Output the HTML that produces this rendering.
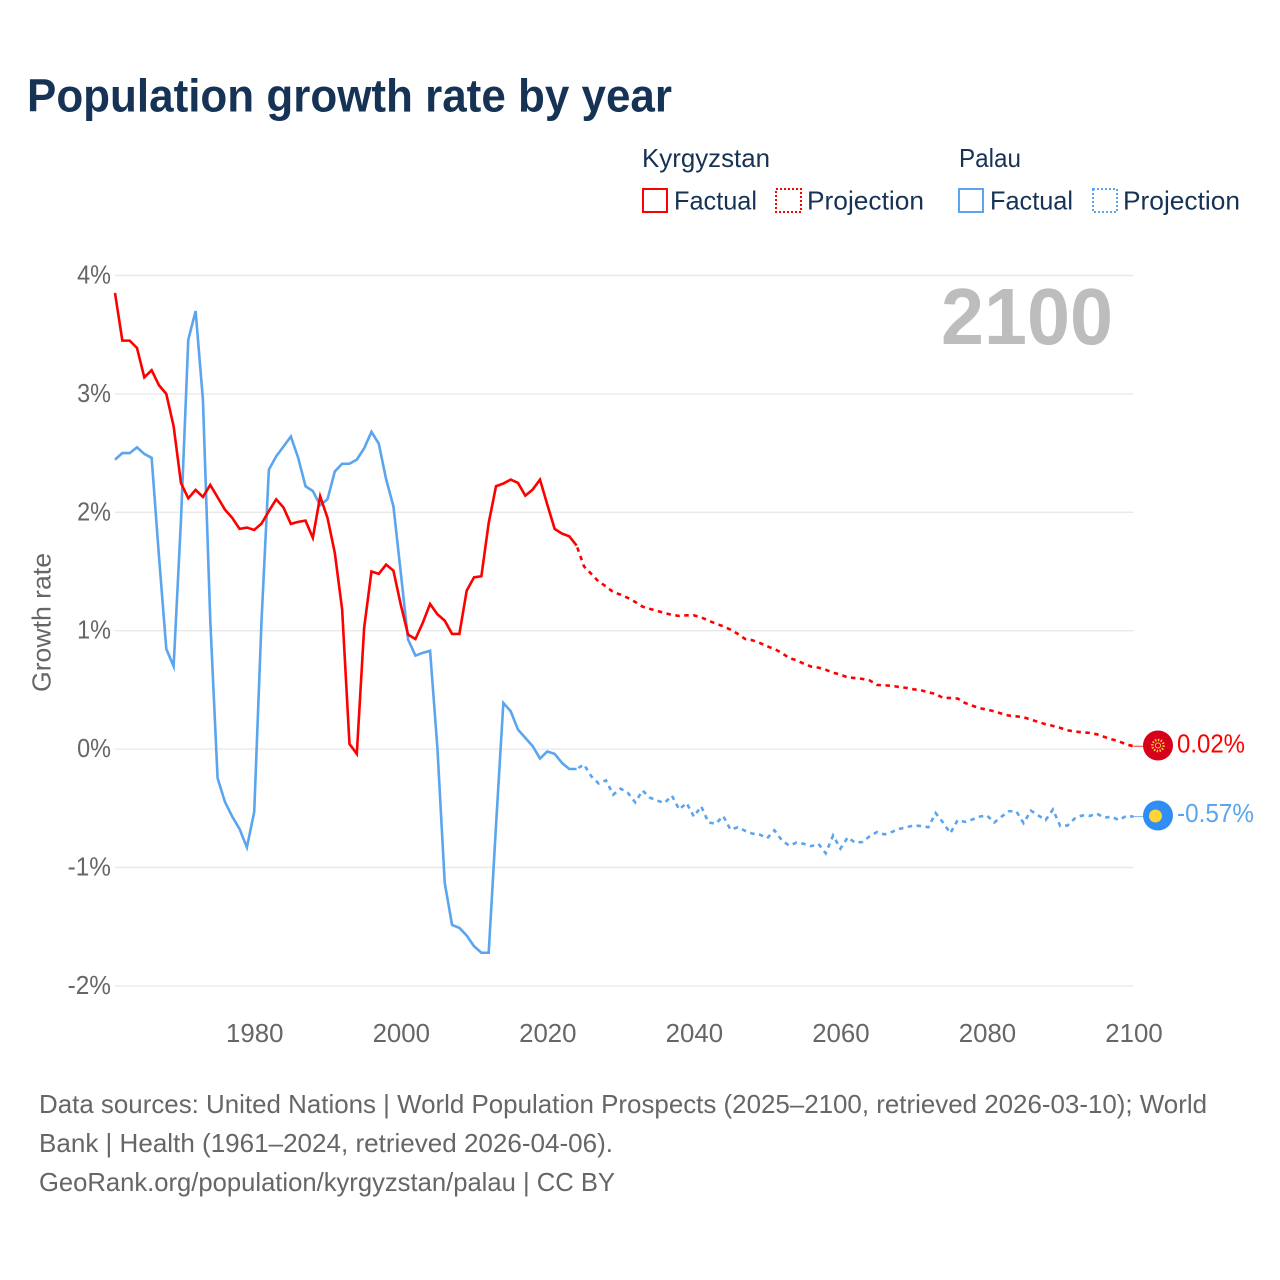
<!DOCTYPE html>
<html lang="en">
<head>
<meta charset="utf-8">
<title>Population growth rate by year</title>
<style>
html,body{margin:0;padding:0;background:#fff;}
svg{display:block;font-family:"Liberation Sans",sans-serif;}
</style>
</head>
<body>
<svg id="chart" width="1280" height="1280" viewBox="0 0 1280 1280" xmlns="http://www.w3.org/2000/svg">
  <rect width="1280" height="1280" fill="#fff"/>
  <text x="27" y="111.5" font-size="46" font-weight="700" fill="#163355" textLength="645" lengthAdjust="spacingAndGlyphs">Population growth rate by year</text>

  <g id="legend" font-size="26" fill="#163355">
    <text x="642" y="167" textLength="128" lengthAdjust="spacingAndGlyphs">Kyrgyzstan</text>
    <text x="959" y="167" textLength="62" lengthAdjust="spacingAndGlyphs">Palau</text>
    <rect x="643" y="189" width="24" height="23" fill="none" stroke="#ff0000" stroke-width="2"/>
    <text x="674" y="209.5" textLength="83" lengthAdjust="spacingAndGlyphs">Factual</text>
    <rect x="776" y="189" width="25" height="23" fill="none" stroke="#ff0000" stroke-width="2" stroke-dasharray="2 2"/>
    <text x="807" y="209.5" textLength="117" lengthAdjust="spacingAndGlyphs">Projection</text>
    <rect x="959" y="189" width="24" height="23" fill="none" stroke="#5aa5ee" stroke-width="2"/>
    <text x="990" y="209.5" textLength="83" lengthAdjust="spacingAndGlyphs">Factual</text>
    <rect x="1093" y="189" width="24" height="23" fill="none" stroke="#5aa5ee" stroke-width="2" stroke-dasharray="2 2"/>
    <text x="1123" y="209.5" textLength="117" lengthAdjust="spacingAndGlyphs">Projection</text>
  </g>

  <g id="grid"></g>
  <g id="yticks"></g>
  <g id="xticks"></g>

  <text transform="translate(50.5,692) rotate(-90)" font-size="26" fill="#666" textLength="139" lengthAdjust="spacingAndGlyphs">Growth rate</text>
  <text x="941" y="344" font-size="80" font-weight="700" fill="#bdbdbd" textLength="172" lengthAdjust="spacingAndGlyphs">2100</text>

  <g id="series"></g>

  <g>
    <circle cx="1158" cy="745.5" r="15" fill="#d6001c"/>
    <circle cx="1158" cy="745.5" r="5.6" fill="none" stroke="#fdd535" stroke-width="2.4" stroke-dasharray="1.4 1.5"/>
    <circle cx="1158" cy="745.5" r="2.6" fill="none" stroke="#fdd535" stroke-width="0.9"/>
  </g>
  <g>
    <circle cx="1158" cy="815.5" r="15" fill="#2f8df3"/>
    <circle cx="1155.5" cy="816" r="6.5" fill="#fdd535"/>
  </g>
  <text x="1177" y="752.5" font-size="26" fill="#ff0000" textLength="68" lengthAdjust="spacingAndGlyphs">0.02%</text>
  <text x="1177" y="822" font-size="26" fill="#5aa5ee" textLength="77" lengthAdjust="spacingAndGlyphs">-0.57%</text>

  <g font-size="26" fill="#666">
    <text x="39" y="1113" textLength="1168" lengthAdjust="spacingAndGlyphs">Data sources: United Nations | World Population Prospects (2025–2100, retrieved 2026-03-10); World</text>
    <text x="39" y="1152" textLength="574" lengthAdjust="spacingAndGlyphs">Bank | Health (1961–2024, retrieved 2026-04-06).</text>
    <text x="39" y="1191" textLength="576" lengthAdjust="spacingAndGlyphs">GeoRank.org/population/kyrgyzstan/palau | CC BY</text>
  </g>
</svg>
<script>
const firstYear = 1961;
const lastYear = 2100;
const yTickValues = [4, 3, 2, 1, 0, -1, -2];
const xTickYears = [1980, 2000, 2020, 2040, 2060, 2080, 2100];

// 1961–2024
const kyrgyzstanFactual = [3.853,3.45,3.45,3.388,3.14,3.2,3.073,3.0,2.727,2.248,2.118,2.189,2.13,2.231,2.127,2.023,1.953,1.86,1.871,1.851,1.905,2.01,2.11,2.04,1.902,1.919,1.93,1.784,2.135,1.953,1.657,1.178,0.044,-0.04,1.023,1.5,1.48,1.558,1.507,1.22,0.967,0.93,1.066,1.226,1.139,1.085,0.973,0.973,1.339,1.451,1.46,1.91,2.22,2.243,2.276,2.248,2.141,2.192,2.276,2.065,1.86,1.82,1.797,1.719];
// 2025–2100
const kyrgyzstanProjection = [1.544,1.48,1.415,1.375,1.325,1.305,1.277,1.243,1.203,1.184,1.167,1.15,1.133,1.125,1.13,1.13,1.113,1.085,1.06,1.037,1.009,0.973,0.93,0.919,0.897,0.868,0.846,0.812,0.77,0.75,0.722,0.697,0.688,0.67,0.645,0.63,0.605,0.6,0.593,0.58,0.542,0.539,0.534,0.525,0.517,0.505,0.497,0.48,0.466,0.432,0.432,0.427,0.39,0.367,0.345,0.334,0.319,0.3,0.283,0.277,0.269,0.249,0.23,0.21,0.196,0.179,0.159,0.148,0.142,0.137,0.125,0.103,0.083,0.066,0.04,0.024];
// 1961–2024
const palauFactual = [2.445,2.5,2.5,2.549,2.493,2.46,1.63,0.846,0.7,1.93,3.457,3.7,2.95,1.09,-0.245,-0.445,-0.57,-0.674,-0.83,-0.53,1.09,2.36,2.473,2.556,2.64,2.46,2.22,2.18,2.06,2.11,2.345,2.41,2.41,2.445,2.54,2.68,2.58,2.28,2.05,1.49,0.925,0.79,0.813,0.83,0.01,-1.13,-1.485,-1.51,-1.575,-1.665,-1.72,-1.72,-0.645,0.39,0.32,0.165,0.095,0.025,-0.08,-0.02,-0.04,-0.117,-0.168,-0.168];
// 2025–2100
const palauProjection = [-0.13,-0.23,-0.29,-0.264,-0.385,-0.334,-0.37,-0.45,-0.35,-0.41,-0.435,-0.455,-0.393,-0.51,-0.455,-0.57,-0.483,-0.62,-0.63,-0.565,-0.68,-0.66,-0.69,-0.714,-0.722,-0.753,-0.686,-0.77,-0.815,-0.79,-0.8,-0.82,-0.8,-0.88,-0.73,-0.84,-0.745,-0.79,-0.785,-0.736,-0.7,-0.72,-0.7,-0.675,-0.66,-0.645,-0.65,-0.66,-0.54,-0.62,-0.71,-0.6,-0.615,-0.595,-0.57,-0.56,-0.62,-0.57,-0.525,-0.525,-0.625,-0.52,-0.56,-0.6,-0.51,-0.65,-0.645,-0.585,-0.56,-0.565,-0.545,-0.58,-0.57,-0.6,-0.565,-0.57];

const NS = 'http://www.w3.org/2000/svg';
function xScale(year) { return 115 + (year - firstYear) * (1018.5 / (lastYear - firstYear)); }
function yScale(value) { return 749.1 - value * 118.4; }
function make(tag, attrs, parent) {
  const el = document.createElementNS(NS, tag);
  for (const k in attrs) el.setAttribute(k, attrs[k]);
  parent.appendChild(el);
  return el;
}
function labelWidth(label) {
  let w = 0;
  for (const c of label) w += c === '%' ? 19.5 : c === '-' ? 9.5 : 14.35;
  return w;
}

const gridGroup = document.getElementById('grid');
const yGroup = document.getElementById('yticks');
const xGroup = document.getElementById('xticks');
const seriesGroup = document.getElementById('series');

yTickValues.forEach(function (v) {
  const line = make('line', {x1: 115, x2: 1133.5, y1: yScale(v), y2: yScale(v), stroke: '#e9e9e9', 'stroke-width': 1.4}, gridGroup);
  
  
  const label = v + '%';
  const w = labelWidth(label);
  const t = make('text', {x: 111 - w, y: yScale(v) + 8, 'font-size': 26, fill: '#666', textLength: w, lengthAdjust: 'spacingAndGlyphs'}, yGroup);
  t.textContent = label;
  
  
});

xTickYears.forEach(function (year) {
  const label = String(year);
  const w = labelWidth(label);
  const t = make('text', {x: xScale(year) + 0.5 - w / 2, y: 1042, 'font-size': 26, fill: '#666', textLength: w, lengthAdjust: 'spacingAndGlyphs'}, xGroup);
  t.textContent = label;
  
  
});

function pathFrom(values, startYear) {
  return values.map(function (v, i) {
    return (i ? 'L' : 'M') + xScale(startYear + i).toFixed(2) + ' ' + yScale(v).toFixed(2);
  }).join('');
}

function drawCountry(factual, projection, color, name, endX) {
  const factualPath = make('path', {d: pathFrom(factual, firstYear), fill: 'none', stroke: color, 'stroke-width': 2.6, 'stroke-linejoin': 'miter', 'stroke-miterlimit': 6}, seriesGroup);
  
  
  const lastFactual = factual[factual.length - 1];
  const projectionValues = [lastFactual].concat(projection);
  const projectionPath = make('path', {d: pathFrom(projectionValues, firstYear + factual.length - 1), fill: 'none', stroke: color, 'stroke-width': 2.6, 'stroke-dasharray': '4.5 4.5', 'stroke-dashoffset': 7}, seriesGroup);
  
  
  const lastValue = projection[projection.length - 1];
  const connector = make('line', {x1: xScale(lastYear), x2: endX, y1: yScale(lastValue), y2: yScale(lastValue), stroke: color, 'stroke-width': 1, 'stroke-opacity': 0.8}, seriesGroup);
  
  
}

drawCountry(palauFactual, palauProjection, '#5aa5ee', 'palau', 1145);
drawCountry(kyrgyzstanFactual, kyrgyzstanProjection, '#ff0000', 'kyrgyzstan', 1145);
</script>
</body>
</html>
